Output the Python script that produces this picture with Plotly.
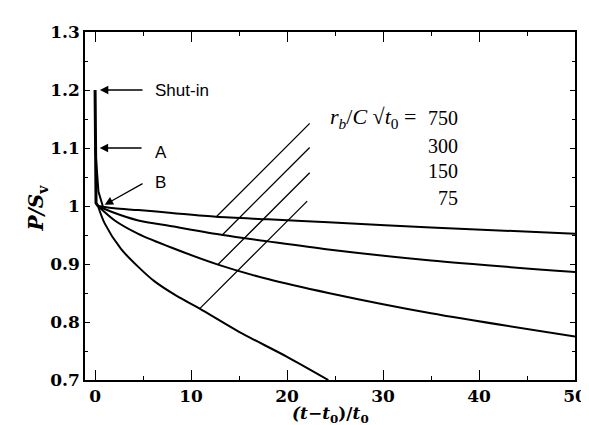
import numpy as np
import plotly.graph_objects as go

# ---- data ----
x_750 = [0.3, 2.0, 4.5, 8.0, 12.6, 18.0, 24.3, 35.0, 50.0]
y_750 = [1.0, 0.996, 0.993, 0.988, 0.9815, 0.977, 0.972, 0.963, 0.952]

x_300 = [0.3, 1.7, 4.5, 8.0, 13.3, 18.0, 24.3, 35.0, 50.0]
y_300 = [1.0, 0.99, 0.975, 0.965, 0.950, 0.939, 0.925, 0.906, 0.886]

x_150 = [0.3, 2.05, 4.5, 8.0, 12.8, 18.0, 24.3, 35.0, 50.0]
y_150 = [1.0, 0.975, 0.952, 0.928, 0.899, 0.874, 0.850, 0.815, 0.775]

x_75 = [0.3, 1.0, 2.7, 4.5, 6.2, 8.5, 10.9, 15.0, 20.0, 24.3]
y_75 = [1.0, 0.97, 0.926, 0.895, 0.870, 0.845, 0.823, 0.783, 0.740, 0.70]

shutin_x = [0.0, 0.1, 0.3]
shutin_y = [1.2, 1.005, 1.0]
decay_x = [0.02, 0.35, 0.8]
decay_y = [1.1, 1.025, 1.0]

ratio_labels = ["750", "300", "150", "75"]
x_ticks = [0, 10, 20, 30, 40, 50]
y_ticks = [0.7, 0.8, 0.9, 1.0, 1.1, 1.2, 1.3]
y_ticktext = ["0.7", "0.8", "0.9", "1", "1.1", "1.2", "1.3"]

curves = [(x_750, y_750), (x_300, y_300), (x_150, y_150), (x_75, y_75)]

# ---- figure ----
W, H = 589, 425
ML, MR, MT, MB = 77, 22, 24, 53
XR = [-1.05, 50]
YR = [0.7, 1.3]
px_per_x = (W - ML - MR) / (XR[1] - XR[0])
px_per_y = (H - MT - MB) / (YR[1] - YR[0])

fig = go.Figure()
for xs, ys in curves:
    fig.add_trace(go.Scatter(x=xs, y=ys, mode="lines",
                             line=dict(color="black", width=2, shape="spline", smoothing=0.8),
                             showlegend=False, hoverinfo="skip"))
fig.add_trace(go.Scatter(x=shutin_x, y=shutin_y, mode="lines",
                         line=dict(color="black", width=3), showlegend=False))
fig.add_trace(go.Scatter(x=decay_x, y=decay_y, mode="lines",
                         line=dict(color="black", width=2), showlegend=False))

# leader lines (45 degrees on screen) from each curve up to the label column
lead_start = [12.63, 13.25, 12.8, 10.9]
lead_end = [22.36, 22.36, 22.36, 22.1]
for (xs, ys), x0, x1 in zip(curves, lead_start, lead_end):
    y0 = float(np.interp(x0, xs, ys))
    y1 = y0 + (x1 - x0) * px_per_x / px_per_y
    fig.add_shape(type="line", x0=x0, y0=y0, x1=x1, y1=y1, xref="x", yref="y",
                  line=dict(color="black", width=1.3))

serif = "Liberation Serif"
wide_serif = "DejaVu Serif"
sans = "Liberation Sans"

# ratio labels
fig.add_annotation(x=33.6, y=1.152, xref="x", yref="y", xanchor="right", yanchor="middle",
                   text="<i>r<sub>b</sub></i>/<i>C</i> √<i>t</i><sub>0</sub> =",
                   showarrow=False, font=dict(family=serif, size=22, color="black"))
label_y = [1.152, 1.103, 1.060, 1.014]
for lab, ly in zip(ratio_labels, label_y):
    fig.add_annotation(x=38.0, y=ly, xref="x", yref="y", xanchor="right", yanchor="middle",
                       text=lab, showarrow=False,
                       font=dict(family=serif, size=20, color="black"))

# arrows and their labels
arrows = [
    ("Shut-in", 0.5, 1.2, 5.1, 1.2),
    ("A", 0.48, 1.1, 5.0, 1.1),
    ("B", 1.0, 1.002, 5.1, 1.04),
]
text_y = [1.2, 1.093, 1.04]
for (lab, tx, ty, ax, ay), ly in zip(arrows, text_y):
    fig.add_annotation(x=tx, y=ty, ax=ax, ay=ay, xref="x", yref="y", axref="x", ayref="y",
                       text="", showarrow=True, arrowhead=2, arrowsize=1.3, arrowwidth=1.3,
                       arrowcolor="black", standoff=0)
    fig.add_annotation(x=6.0, y=ly, xref="x", yref="y", xanchor="left", yanchor="middle",
                       text=lab, showarrow=False,
                       font=dict(family=sans, size=17, color="black"))

# axis titles
fig.add_annotation(x=0.5, y=-0.138, xref="paper", yref="paper", xanchor="center", yanchor="bottom",
                   text="<b><i>(t</i>−<i>t</i><sub>0</sub>)/<i>t</i><sub>0</sub></b>",
                   showarrow=False, font=dict(family=wide_serif, size=17, color="black"))
fig.add_annotation(x=-0.097, y=0.494, xref="paper", yref="paper", xanchor="center", yanchor="middle",
                   text="<b><i>P/S</i><sub>v</sub></b>", textangle=-90,
                   showarrow=False, font=dict(family=wide_serif, size=20, color="black"))

tickfont = dict(family=wide_serif, size=17, color="black", weight="bold")
fig.update_xaxes(range=XR, tickvals=x_ticks, ticks="inside", ticklen=10, tickwidth=1.3,
                 tickcolor="black", showline=True, linecolor="black", linewidth=1.5,
                 mirror="ticks", showgrid=False, zeroline=False, tickfont=tickfont,
                 minor=dict(tickvals=[5, 15, 25, 35, 45], ticks="inside", ticklen=4,
                            tickcolor="black", tickwidth=1))
fig.update_yaxes(range=YR, tickvals=y_ticks, ticktext=y_ticktext, ticks="inside", ticklen=5,
                 tickwidth=1.3, tickcolor="black", showline=True, linecolor="black", linewidth=1.5,
                 mirror="ticks", showgrid=False, zeroline=False, tickfont=tickfont,
                 minor=dict(tickvals=[0.75, 0.85, 0.95, 1.05, 1.15, 1.25], ticks="inside",
                            ticklen=3, tickcolor="black", tickwidth=1))

fig.update_layout(width=W, height=H, margin=dict(l=ML, r=MR, t=MT, b=MB, autoexpand=False),
                  plot_bgcolor="white", paper_bgcolor="white", showlegend=False)

fig.write_html("out.html")
